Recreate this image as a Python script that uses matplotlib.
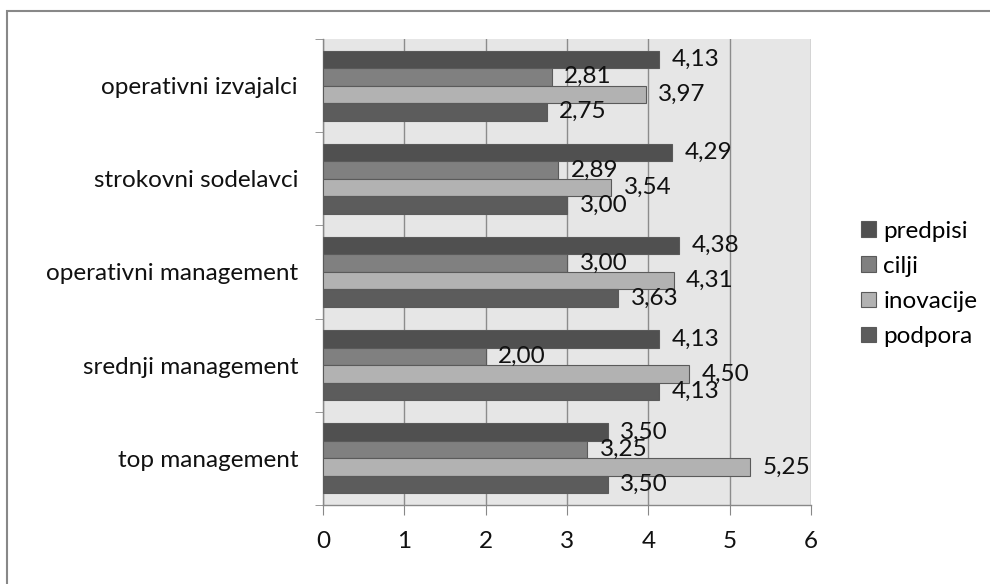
import numpy as np
import matplotlib.pyplot as plt
from matplotlib.patches import Rectangle

# skupine (od spodaj navzgor) in povprečne ocene po področjih
skupine = ['top management', 'srednji management', 'operativni management',
           'strokovni sodelavci', 'operativni izvajalci']
predpisi = [3.50, 4.13, 4.38, 4.29, 4.13]
cilji = [3.25, 2.00, 3.00, 2.89, 2.81]
inovacije = [5.25, 4.50, 4.31, 3.54, 3.97]
podpora = [3.50, 4.13, 3.63, 3.00, 2.75]

serije = [('predpisi', predpisi, '#505050'),
          ('cilji', cilji, '#808080'),
          ('inovacije', inovacije, '#b2b2b2'),
          ('podpora', podpora, '#5c5c5c')]

plt.rcParams['font.family'] = ['Lato', 'DejaVu Sans']
fs = 17.5

fig = plt.figure(figsize=(9.9, 5.84), dpi=100)
ax = fig.add_axes([0.3263, 0.1353, 0.4929, 0.798])
ax.set_facecolor('#e6e6e6')

y = np.arange(len(skupine))
h = 0.75 / 4
odmiki = [1.5 * h, 0.5 * h, -0.5 * h, -1.5 * h]

for (ime, vrednosti, barva), dy in zip(serije, odmiki):
    ax.barh(y + dy, vrednosti, height=h, color=barva, edgecolor='#5a5a5a',
            linewidth=0.8, label=ime, zorder=3)
    for yi, v in zip(y + dy, vrednosti):
        ax.annotate(f'{v:.2f}'.replace('.', ','), (v, yi), xytext=(9, 0),
                    textcoords='offset points', va='center', ha='left',
                    fontsize=fs, color='#111111', zorder=4)

ax.set_xlim(0, 6)
ax.set_ylim(-0.5, len(skupine) - 0.5)
ax.set_xticks(range(7))
ax.tick_params(axis='x', labelsize=fs, length=7, color='#888888', pad=12,
               labelcolor='#111111')
ax.set_yticks(y)
ax.set_yticklabels(skupine)
ax.tick_params(axis='y', which='major', length=0, labelsize=fs, pad=18,
               labelcolor='#111111')
ax.set_yticks(np.arange(-0.5, len(skupine), 1), minor=True)
ax.tick_params(axis='y', which='minor', length=5.5, color='#888888')

ax.grid(axis='x', color='#8c8c8c', linewidth=1.0, zorder=1)
for s in ['top', 'right']:
    ax.spines[s].set_visible(False)
for s in ['left', 'bottom']:
    ax.spines[s].set_color('#888888')
    ax.spines[s].set_linewidth(1.0)

fig.legend(loc='center left', bbox_to_anchor=(0.848, 0.514), frameon=False,
           fontsize=fs, handlelength=0.6, handleheight=0.6,
           handletextpad=0.3, labelspacing=0.58)

# okvir okoli grafikona (desni in spodnji rob sta odrezana)
fig.patches.append(Rectangle((0.007, -0.1), 1.2, 1.081, transform=fig.transFigure,
                             fill=False, edgecolor='#888888', linewidth=1.5))

fig.savefig('out.png', dpi=100)
